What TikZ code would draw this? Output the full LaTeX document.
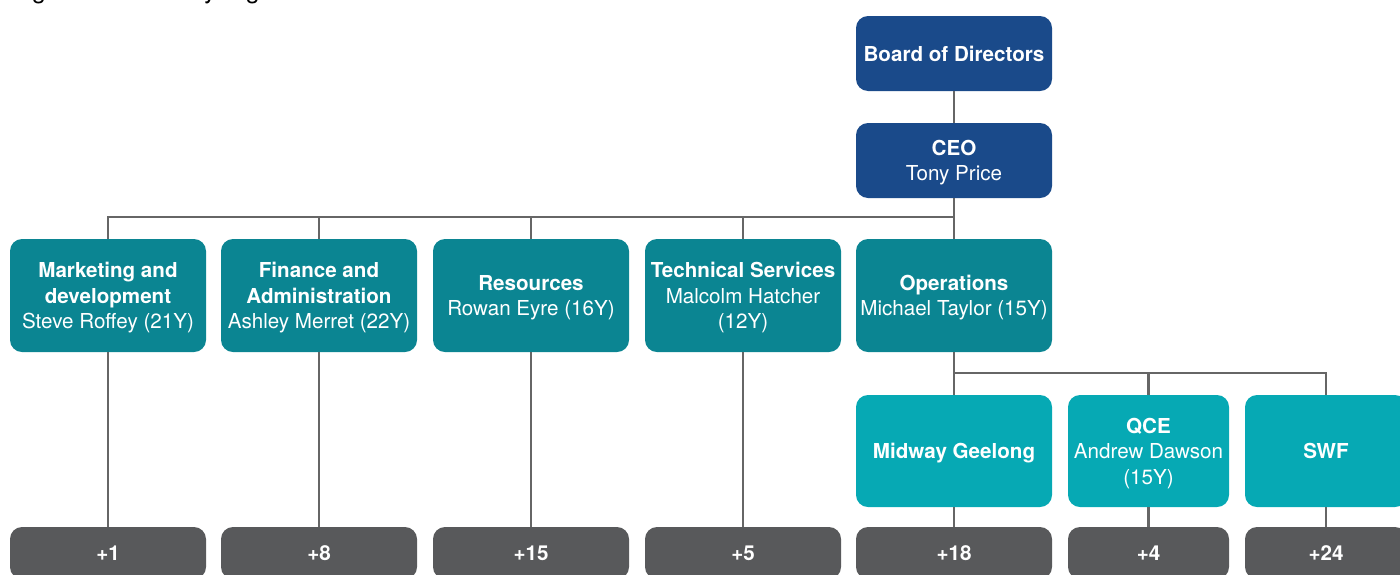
\documentclass[tikz,border=0pt]{standalone}
\usepackage{fontspec}
\setmainfont{TeX Gyre Heros}
\definecolor{boardblue}{HTML}{1A4A8A}
\definecolor{deptteal}{HTML}{0B8592}
\definecolor{unitteal}{HTML}{06A9B4}
\definecolor{countgray}{HTML}{58595B}
\definecolor{linegray}{HTML}{666666}
\begin{document}
\begin{tikzpicture}[x=0.5pt,y=-0.5pt,
  box/.style={rectangle, rounded corners=6pt, text=white, align=center, inner sep=1pt,
    text depth=0pt, font=\fontsize{10.3pt}{12.75pt}\selectfont, minimum width=98pt},
  topbox/.style={box, fill=boardblue, minimum height=37.5pt},
  deptbox/.style={box, fill=deptteal, minimum height=56.5pt},
  unitbox/.style={box, fill=unitteal, minimum height=56pt},
  countbox/.style={box, fill=countgray, minimum height=26pt, font=\fontsize{10.3pt}{12.75pt}\selectfont\bfseries},
  link/.style={draw=linegray, line width=1.25pt}]
\useasboundingbox (0,0) rectangle (1400,574);
\node[anchor=base west, inner sep=0pt, font=\fontsize{12.5pt}{15pt}\selectfont] (cap) at (11,-2) {Figure 30: Midway organisation structure};
% top
\node[topbox] (board) at (954,53.5) {\textbf{Board of Directors}};
\node[topbox] (ceo) at (954,160.5) {\textbf{CEO}\\Tony Price};
% departments
\node[deptbox] (mkt) at (108,295.5) {\textbf{Marketing and}\\\textbf{development}\\Steve Roffey (21Y)};
\node[deptbox] (fin) at (319,295.5) {\textbf{Finance and}\\\textbf{Administration}\\Ashley Merret (22Y)};
\node[deptbox] (res) at (531,295.5) {\textbf{Resources}\\Rowan Eyre (16Y)};
\node[deptbox] (tech) at (743,295.5) {\textbf{Technical Services}\\Malcolm Hatcher\\(12Y)};
\node[deptbox] (ops) at (954,295.5) {\textbf{Operations}\\Michael Taylor (15Y)};
% units
\node[unitbox] (mid) at (954,451) {\textbf{Midway Geelong}};
\node[unitbox, minimum width=80.5pt] (qce) at (1148.5,451) {\textbf{QCE}\\Andrew Dawson\\(15Y)};
\node[unitbox, minimum width=81pt] (swf) at (1326,451) {\textbf{SWF}};
% counts
\node[countbox] (c1) at (108,553) {+1};
\node[countbox] (c2) at (319,553) {+8};
\node[countbox] (c3) at (531,553) {+15};
\node[countbox] (c4) at (743,553) {+5};
\node[countbox] (c5) at (954,553) {+18};
\node[countbox, minimum width=80.5pt] (c6) at (1148.5,553) {+4};
\node[countbox, minimum width=81pt] (c7) at (1326,553) {+24};
% buses
\coordinate (busA) at (0,217);
\coordinate (busB) at (0,373);
% connectors
\draw[link] (board.south) -- (ceo.north);
\foreach \d in {mkt,fin,res,tech,ops}
  \draw[link] (ceo.south) -- (ceo.south |- busA) -| (\d.north);
\foreach \u in {mid,qce,swf}
  \draw[link] (ops.south) -- (ops.south |- busB) -| (\u.north);
\draw[link] (mkt.south) -- (c1.north);
\draw[link] (fin.south) -- (c2.north);
\draw[link] (res.south) -- (c3.north);
\draw[link] (tech.south) -- (c4.north);
\draw[link] (mid.south) -- (c5.north);
\draw[link] (qce.south) -- (c6.north);
\draw[link] (swf.south) -- (c7.north);
\end{tikzpicture}
\end{document}
